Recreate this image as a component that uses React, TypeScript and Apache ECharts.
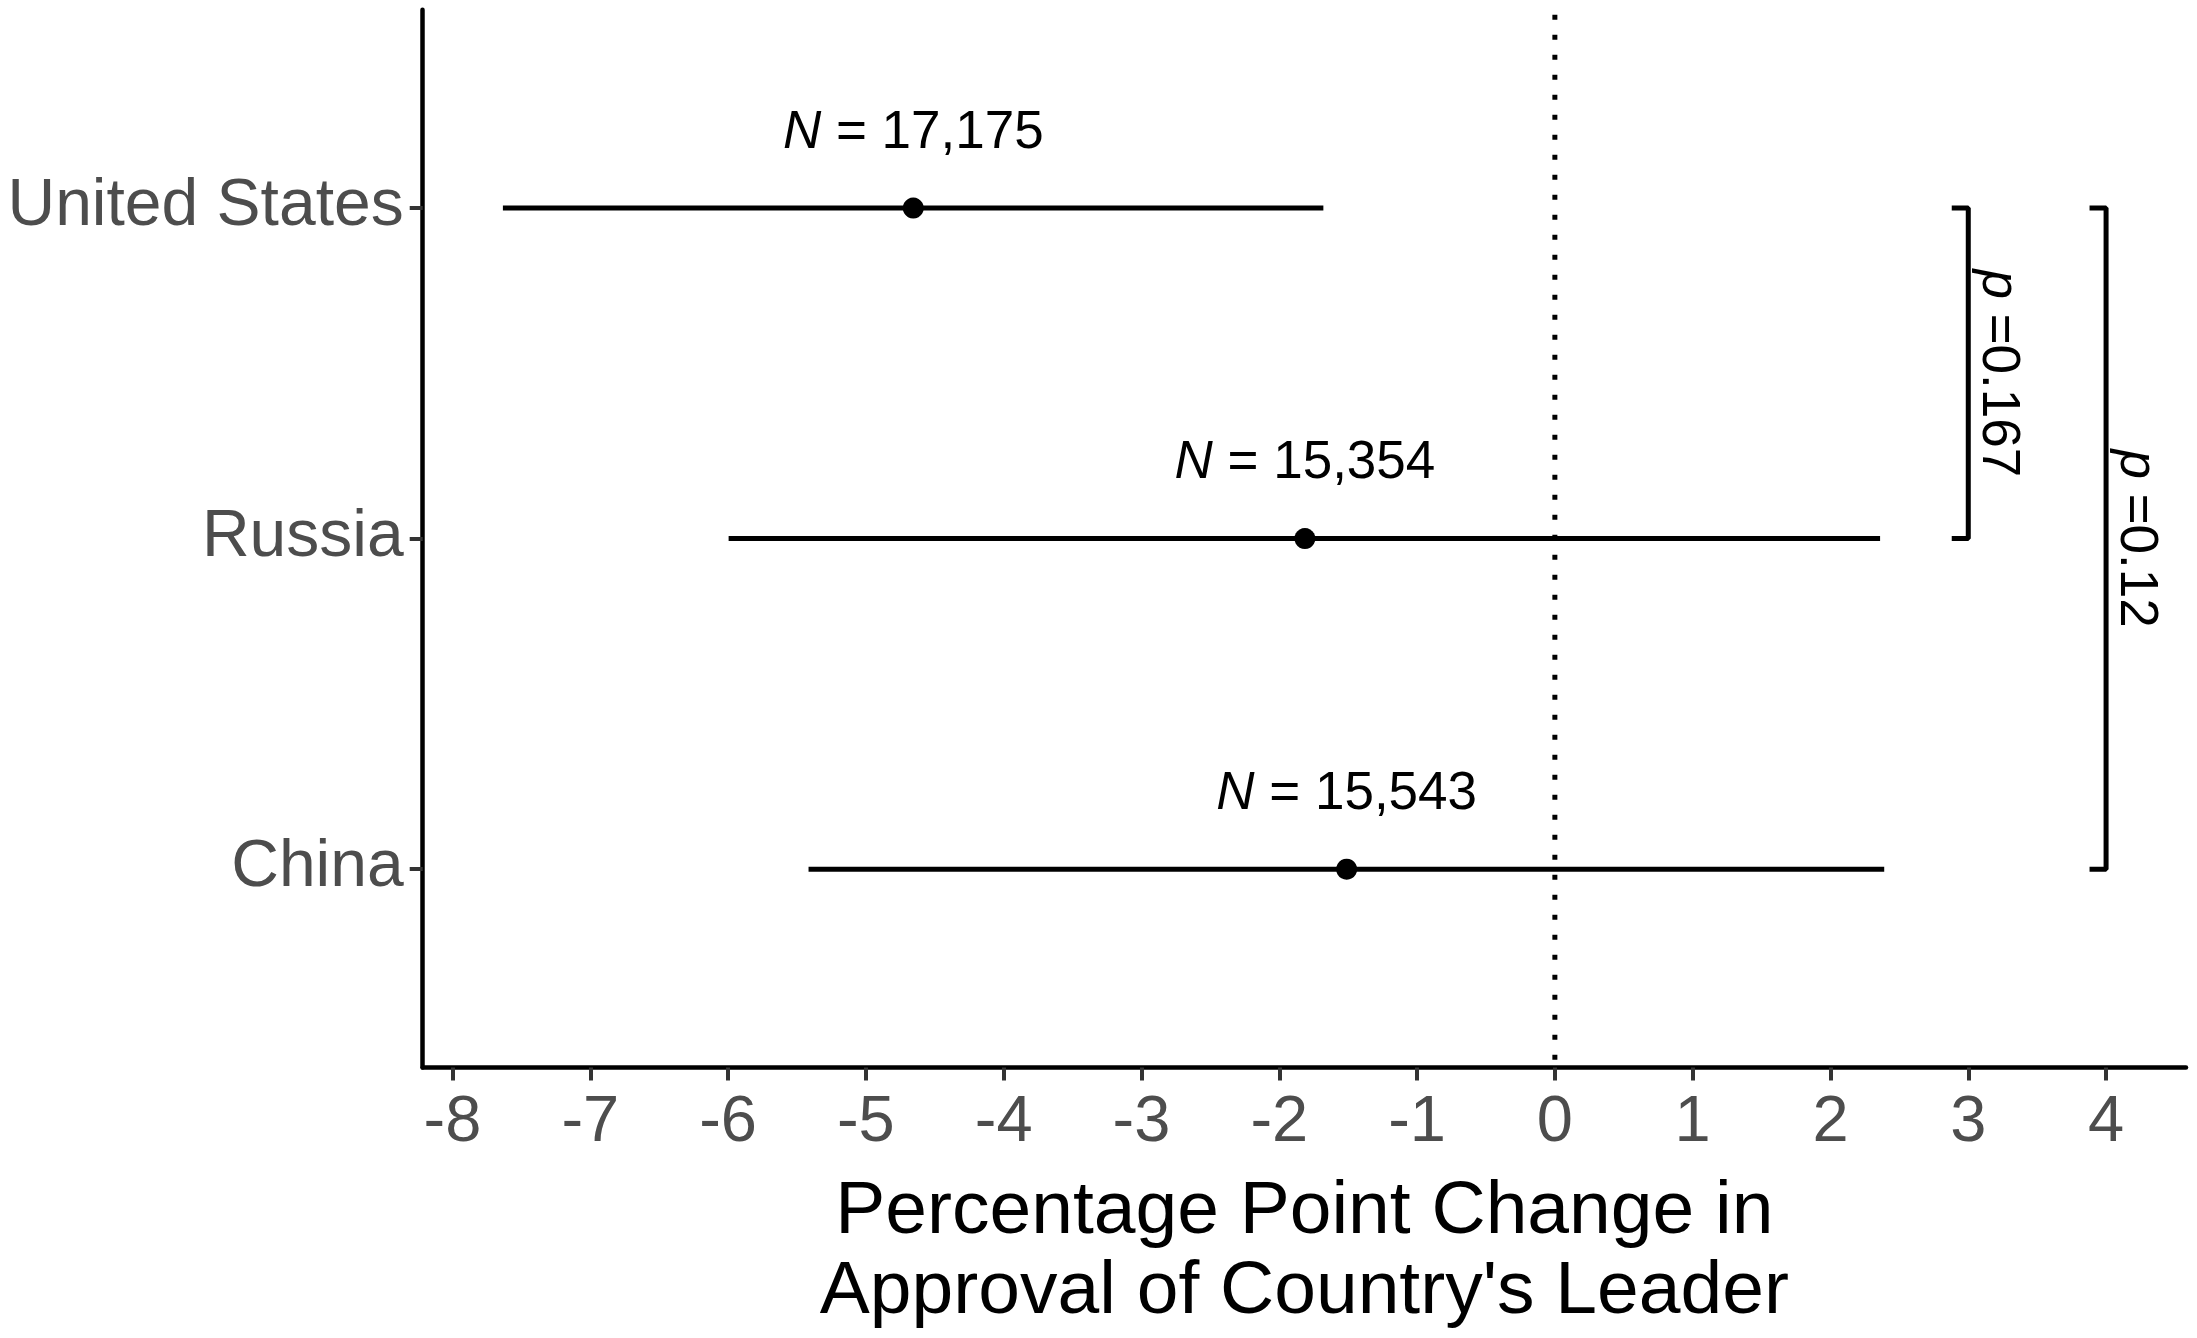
import React, { useEffect, useRef } from "react";
import * as echarts from "echarts";

// ---- data ----
const countries = ["United States", "Russia", "China"];
const estimates = [-4.656, -1.814, -1.511];
const lowerCI = [-7.634, -5.996, -5.416];
const upperCI = [-1.68, 2.36, 2.39];
const sampleN = ["17,175", "15,354", "15,543"];
const xTicks = [-8, -7, -6, -5, -4, -3, -2, -1, 0, 1, 2, 3, 4];
const comparisons = [
  { from: "United States", to: "Russia", xPos: 3, p: "0.167" },
  { from: "United States", to: "China", xPos: 4, p: "0.12" },
];
const xTitle = "Percentage Point Change in\nApproval of Country's Leader";

const FONT = "'Liberation Sans', Arial, Helvetica, sans-serif";

function yOf(name: string): number {
  const i = countries.indexOf(name);
  return countries.length - i;
}

export default function App() {
  const ref = useRef<HTMLDivElement>(null);

  useEffect(() => {
    if (!ref.current) return;
    const chart = echarts.init(ref.current, null, { renderer: "svg" });
    const yTicks = countries.map((c) => yOf(c));
    const tip = 0.12;

    const option: any = {
      animation: false,
      backgroundColor: "#ffffff",
      grid: { left: 422.7, top: 9.7, width: 1763.3, height: 1057.8, containLabel: false },
      xAxis: {
        type: "value",
        min: -8.216,
        max: 4.58,
        name: xTitle,
        nameLocation: "middle",
        nameGap: 99,
        nameTextStyle: { fontSize: 75, color: "#000000", fontFamily: FONT, lineHeight: 80 },
        axisLine: { show: true, onZero: false, lineStyle: { color: "#000000", width: 4.5 } },
        axisTick: { show: true, length: 13, customValues: xTicks, lineStyle: { color: "#333333", width: 4 } },
        axisLabel: {
          show: true,
          customValues: xTicks,
          margin: 18,
          fontSize: 65,
          color: "#4D4D4D",
          fontFamily: FONT,
          formatter: (v: number) => String(Math.round(v)),
        },
        splitLine: { show: false },
      },
      yAxis: {
        type: "value",
        min: 0.4,
        max: 3.6,
        axisLine: { show: true, onZero: false, lineStyle: { color: "#000000", width: 4.5 } },
        axisTick: { show: true, length: 13, customValues: yTicks, lineStyle: { color: "#333333", width: 4 } },
        axisLabel: {
          show: true,
          customValues: yTicks,
          margin: 19,
          fontSize: 66,
          color: "#4D4D4D",
          fontFamily: FONT,
          verticalAlign: "bottom",
          lineHeight: 12,
          formatter: (v: number) => {
            const idx = countries.length - Math.round(v);
            return countries[idx] ?? "";
          },
        },
        splitLine: { show: false },
      },
      series: [
        {
          type: "line",
          name: "zero",
          data: [
            [0, 3.6],
            [0, 0.4],
          ],
          showSymbol: false,
          symbol: "none",
          lineStyle: { color: "#000000", width: 5, type: [5, 15], dashOffset: 15, cap: "butt" },
          z: 1,
          silent: true,
        },
        {
          type: "custom",
          name: "ci",
          data: countries.map((c, i) => [yOf(c), lowerCI[i], upperCI[i]]),
          encode: { x: [1, 2], y: 0 },
          renderItem: (params: any, api: any) => {
            const y = api.value(0);
            const p1 = api.coord([api.value(1), y]);
            const p2 = api.coord([api.value(2), y]);
            return {
              type: "line",
              shape: { x1: p1[0], y1: p1[1], x2: p2[0], y2: p2[1] },
              style: { stroke: "#000000", lineWidth: 5 },
            };
          },
          z: 2,
        },
        {
          type: "scatter",
          name: "estimate",
          data: countries.map((c, i) => [estimates[i], yOf(c)]),
          symbol: "circle",
          symbolSize: 21,
          itemStyle: { color: "#000000", opacity: 1 },
          z: 3,
          label: {
            show: true,
            position: "top",
            distance: 42,
            fontSize: 53,
            color: "#000000",
            opacity: 1,
            fontFamily: FONT,
            formatter: (p: any) => `{i|N} = ${sampleN[p.dataIndex]}`,
            rich: {
              i: { fontStyle: "italic", fontSize: 53, color: "#000000", fontFamily: FONT },
            },
          },
        },
        ...comparisons.map((cmp) => ({
          type: "line",
          name: "bracket-" + cmp.p,
          data: [
            [cmp.xPos - tip, yOf(cmp.from)],
            [cmp.xPos, yOf(cmp.from)],
            [cmp.xPos, yOf(cmp.to)],
            [cmp.xPos - tip, yOf(cmp.to)],
          ],
          showSymbol: false,
          symbol: "none",
          lineStyle: { color: "#000000", width: 5 },
          z: 2,
          silent: true,
        })),
        {
          type: "custom",
          name: "pvals",
          data: comparisons.map((cmp, i) => [cmp.xPos, (yOf(cmp.from) + yOf(cmp.to)) / 2, i]),
          encode: { x: 0, y: 1 },
          renderItem: (params: any, api: any) => {
            const pt = api.coord([api.value(0), api.value(1)]);
            const cmp = comparisons[api.value(2)];
            return {
              type: "text",
              x: pt[0] + 33,
              y: pt[1],
              rotation: -Math.PI / 2,
              style: {
                text: `{i|p} =${cmp.p}`,
                fontSize: 53,
                fontFamily: FONT,
                fill: "#000000",
                align: "center",
                verticalAlign: "middle",
                rich: {
                  i: { fontStyle: "italic", fontSize: 53, fontFamily: FONT, fill: "#000000", color: "#000000" },
                },
              },
            };
          },
          z: 4,
        },
      ],
    };

    chart.setOption(option);
    return () => chart.dispose();
  }, []);

  return (
    <div
      ref={ref}
      style={{ position: "fixed", left: 0, top: 0, width: 2197, height: 1338, background: "#ffffff" }}
    />
  );
}
